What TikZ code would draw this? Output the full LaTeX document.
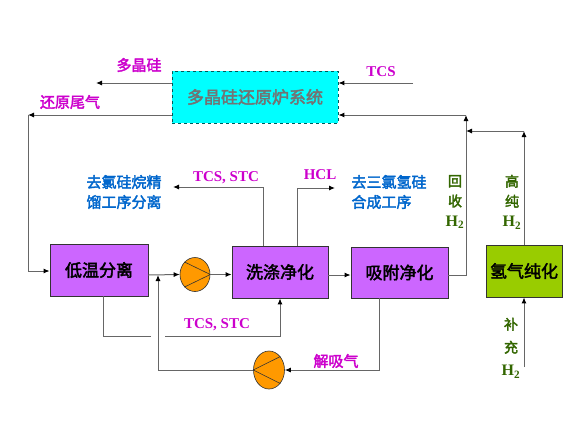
\documentclass[tikz,border=0pt]{standalone}
\usepackage{fontspec}
\setmainfont{Liberation Serif}
\newfontfamily\cjk{Noto Sans CJK SC}[FakeBold=2.5]
\usetikzlibrary{arrows.meta,shapes.geometric}
\definecolor{purp}{HTML}{CC66FF}
\definecolor{lime}{HTML}{99CC00}
\definecolor{cyanbox}{HTML}{00FFFF}
\definecolor{pumpor}{HTML}{FF9900}
\definecolor{magtext}{HTML}{CC00CC}
\definecolor{bluetext}{HTML}{0066CC}
\definecolor{greentext}{HTML}{336600}
\definecolor{linegray}{HTML}{666666}
\newcommand\hfnt{\rmfamily\bfseries\fontsize{16}{18}\selectfont}
\tikzset{
  procbox/.style={draw=black!80, line width=0.8pt, font=\cjk\fontsize{17}{19}\selectfont, text=black},
  pumpnode/.style={ellipse, draw=black!80, fill=pumpor, line width=0.6pt, inner sep=0pt},
  conn/.style={draw=linegray, line width=1pt},
  arr/.style={conn, -{Latex[length=6pt,width=5pt,color=black]}},
  magcjk/.style={text=magtext, font=\cjk\fontsize{15}{17}\selectfont},
  maglat/.style={text=magtext, font=\bfseries\fontsize{15}{17}\selectfont},
  bluelbl/.style={text=bluetext, font=\cjk\fontsize{15}{20}\selectfont, align=left, anchor=west},
  greenlbl/.style={text=greentext, font=\cjk\fontsize{14}{20}\selectfont, align=center}
}
\begin{document}
\begin{tikzpicture}[x=1pt,y=-1pt]
\useasboundingbox (0,0) rectangle (588,437);
% boxes
\node[procbox, fill=cyanbox, draw=teal!70!black, dashed, minimum width=166, minimum height=52, text=black!55] (top) at (255,97) {多晶硅还原炉系统};
\node[procbox, fill=purp, minimum width=98, minimum height=52] (dw) at (99,270) {低温分离};
\node[procbox, fill=purp, minimum width=96, minimum height=52] (xd) at (280,272) {洗涤净化};
\node[procbox, fill=purp, minimum width=97, minimum height=51] (xf) at (399.5,272.5) {吸附净化};
\node[procbox, fill=lime, minimum width=76, minimum height=52] (h2) at (524,271) {氢气纯化};
% pumps
\node[pumpnode, minimum width=30, minimum height=34] (p1) at (195,274.5) {};
\draw[black!80, line width=0.6pt] (p1.130) -- (p1.east) -- (p1.230);
\node[pumpnode, minimum width=31, minimum height=38] (p2) at (269,370) {};
\draw[black!80, line width=0.6pt] (p2.50) -- (p2.west) -- (p2.-50);
% coordinates
\coordinate (row) at (0,275);
\coordinate (polyEnd) at (96,83);
\coordinate (tcsStart) at (413,83);
\coordinate (lt) at (28,115);
\coordinate (lb) at (28,271);
\coordinate (rr) at (466,115);
\coordinate (hh) at (524,131);
\coordinate (sup) at (524,367);
\coordinate (tsx) at (263,187);
\coordinate (tsEnd) at (173,187);
\coordinate (hclx) at (297,188);
\coordinate (hclEnd) at (335,188);
\coordinate (b1) at (103,336);
\coordinate (gapL) at (151,336);
\coordinate (gapR) at (165,336);
\coordinate (b1r) at (280,336);
\coordinate (b2) at (379,370);
\coordinate (j1) at (158,370);
\coordinate (j2) at (158,275);
% connectors
\draw[arr] (top.west |- polyEnd) -- (polyEnd);
\draw[arr] (tcsStart) -- (top.east |- tcsStart);
\draw[arr] (top.west |- lt) -- (lt);
\draw[arr] (lt) -- (lb) -- (dw.west |- lb);
\draw[arr] (dw.east |- row) -- (p1.west);
\draw[arr] (p1.east) -- (xd.west |- p1.east);
\draw[arr] (xd.east |- row) -- (xf.west |- row);
\draw[arr] (xf.east |- row) -- (rr |- row) -- (rr);
\draw[arr] (rr) -- (top.east |- rr);
\draw[arr] (h2.north) -- (hh);
\draw[arr] (hh) -- (rr |- hh);
\draw[arr] (sup) -- (h2.south);
\draw[arr] (tsx |- xd.north) -- (tsx) -- (tsEnd);
\draw[arr] (hclx |- xd.north) -- (hclx) -- (hclEnd);
\draw[conn] (b1 |- dw.south) -- (b1) -- (gapL);
\draw[arr] (gapR) -- (b1r) -- (xd.south);
\draw[arr] (b2 |- xf.south) -- (b2) -- (p2.east);
\draw[arr] (p2.west) -- (j1) -- (j2);
% labels
\node[magcjk] (lpoly) at (139,65) {多晶硅};
\node[magcjk] (ltail) at (70,102) {还原尾气};
\node[maglat] (ltcs) at (381,72) {TCS};
\node[maglat] (lts1) at (226,178) {TCS, STC};
\node[maglat] (lhcl) at (320,175) {HCL};
\node[maglat] (lts2) at (217,325) {TCS, STC};
\node[magcjk] (ljx) at (336,361) {解吸气};
\node[bluelbl] (lb1) at (83,192) {去氯硅烷精\\馏工序分离};
\node[bluelbl] (lb2) at (348,192) {去三氯氢硅\\合成工序};
\node[greenlbl] (lg1) at (455,202) {回\\收\\{\hfnt H\textsubscript{2}}};
\node[greenlbl] (lg2) at (512,202) {高\\纯\\{\hfnt H\textsubscript{2}}};
\node[greenlbl, font=\cjk\fontsize{14}{23}\selectfont] (lg3) at (511,348) {补\\充\\{\hfnt H\textsubscript{2}}};
\end{tikzpicture}
\end{document}
